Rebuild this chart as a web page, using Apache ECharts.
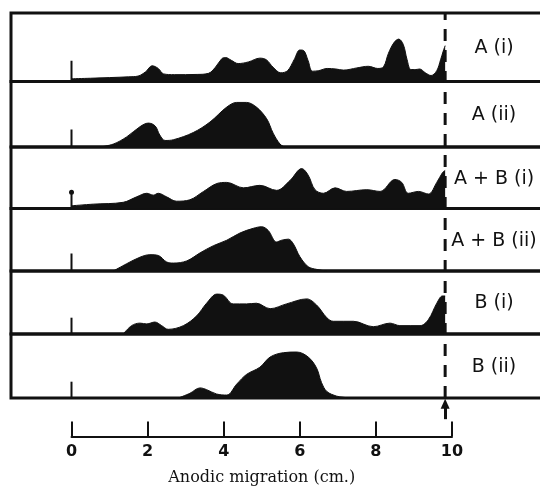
<!DOCTYPE html>
<html>
<head>
<meta charset="utf-8">
<script src="https://cdn.jsdelivr.net/npm/echarts@6/dist/echarts.min.js"></script>
<style>
html,body{margin:0;padding:0;background:#fff;}
#chart{width:540px;height:489px;}
</style>
</head>
<body>
<div id="chart"></div>
<script>
// ---- data (migration cm, relative density) ----
const panelNames = ['A (i)', 'A (ii)', 'A + B (i)', 'A + B (ii)', 'B (i)', 'B (ii)'];
const xTicks = [0, 2, 4, 6, 8, 10];
const frontCm = 9.82;           // dashed line / arrow position
const originTick = [19, 16, 15, 16, 15, 15];

const aI = [[0,2.5],[0.5,3],[1,3.6],[1.5,4.3],[1.75,5],[1.95,9],[2.12,14.5],[2.28,12],[2.42,7],[2.7,6.3],[3.3,6.5],[3.6,7.5],[3.78,13],[3.95,21],[4.05,22],[4.2,19.5],[4.38,16.5],[4.65,18],[4.95,21.5],[5.12,20],[5.3,13],[5.5,8],[5.68,10],[5.85,20],[6.0,29],[6.1,28.5],[6.22,19],[6.33,9.5],[6.5,10],[6.72,12],[6.95,11.5],[7.15,10.5],[7.5,12.5],[7.8,14],[8.05,12],[8.2,13.5],[8.33,26],[8.48,36],[8.6,39],[8.72,34],[8.82,20],[8.92,11],[9.05,11],[9.15,11.5],[9.3,8],[9.45,5.5],[9.6,10],[9.7,20],[9.77,28],[9.82,33]];
const aII = [[0.75,0],[1.1,2.7],[1.45,9.3],[1.8,18.7],[2.02,22],[2.2,19.3],[2.32,11],[2.46,6],[2.68,6.7],[3.2,13.3],[3.64,23],[4.08,36.7],[4.34,41],[4.6,41],[4.86,36.7],[5.13,26],[5.3,12.7],[5.48,2.7],[5.6,0]];
const abI = [[0,2.5],[0.57,4],[1.36,5.7],[1.71,10.7],[1.98,14],[2.15,12.3],[2.28,14],[2.5,10.7],[2.76,6.7],[3.11,8],[3.47,15.7],[3.82,23],[4.08,24],[4.52,19],[4.95,21.3],[5.39,16.7],[5.74,25.7],[6.05,36.7],[6.22,30.7],[6.4,17.3],[6.62,14],[6.93,19],[7.23,15.7],[7.76,17.3],[8.11,15.7],[8.5,26.7],[8.68,24],[8.85,14],[9.12,15.7],[9.38,13.3],[9.6,24],[9.75,33],[9.82,35]];
const abII = [[1.1,0],[1.45,6.7],[1.8,12.7],[2.06,15],[2.28,14.3],[2.5,8.3],[2.68,7.3],[3.03,9.3],[3.38,16.7],[3.73,23.3],[4.08,28.3],[4.43,35],[4.78,39.3],[5.0,40.7],[5.17,37.3],[5.39,26.7],[5.52,28.3],[5.7,29.3],[5.83,25],[6.0,13.3],[6.22,4],[6.44,1.5],[6.7,0]];
const bI = [[1.36,0],[1.58,7.7],[1.8,10],[1.98,9.3],[2.19,11],[2.37,7.7],[2.54,4.3],[2.94,7.7],[3.29,16.7],[3.55,28.3],[3.82,36.7],[3.99,35.7],[4.25,27.7],[4.6,27.7],[4.86,28.3],[5.22,23.3],[5.65,27.7],[6.18,32.3],[6.44,26.7],[6.71,15],[6.88,11.7],[7.41,11.7],[7.93,6.7],[8.37,10],[8.63,7.7],[9.16,7.7],[9.38,13.3],[9.6,28.3],[9.75,35],[9.82,35]];
const bII = [[2.81,0],[3.11,4.3],[3.38,9.3],[3.55,7.7],[3.81,3.7],[4.08,2.7],[4.34,12.7],[4.6,21.7],[4.95,28.3],[5.22,37.7],[5.57,41.7],[5.92,42.3],[6.22,37.7],[6.44,27.7],[6.57,14.3],[6.71,6],[6.97,1.7],[7.14,0.7],[7.3,0]];
const profiles = [aI, aII, abI, abII, bI, bII];

// ---- layout ----
const INK = '#111';
const edges = [13, 81.5, 147, 208.5, 271, 334, 398];
const yFill = 0.92;             // fraction of panel height per density unit range
const zeroPx = 71.5, pxPerCm = 38.05;
const frameLeft = 11, frameRight = 544;
const xMin = (frameLeft - zeroPx) / pxPerCm;
const xMax = (frameRight - zeroPx) / pxPerCm;

const grids = [], xAxes = [], yAxes = [], series = [], graphics = [];

for (let i = 0; i < 6; i++) {
  const top = edges[i], h = edges[i + 1] - edges[i];
  grids.push({left: frameLeft, width: frameRight - frameLeft, top: top, height: h,
    show: true, borderColor: INK, borderWidth: 3, backgroundColor: 'transparent',
    outerBoundsMode: 'none'});
  xAxes.push({gridIndex: i, type: 'value', min: xMin, max: xMax, show: false});
  yAxes.push({gridIndex: i, type: 'value', min: 0, max: h * yFill, show: false});
  series.push({type: 'line', xAxisIndex: i, yAxisIndex: i, data: profiles[i],
    smooth: 0.35, symbol: 'none', clip: true,
    lineStyle: {color: INK, width: 1}, areaStyle: {color: INK, opacity: 1}, z: 2});
  series.push({type: 'line', xAxisIndex: i, yAxisIndex: i,
    data: [[0, 0], [0, originTick[i]]],
    symbol: i === 2 ? 'circle' : 'none',
    symbolSize: (v, p) => (p.dataIndex === 1 ? 5 : 0),
    itemStyle: {color: INK}, lineStyle: {color: INK, width: 2}, z: 3});
  graphics.push({type: 'text', x: 494, y: top + h / 2 + 1,
    style: {text: panelNames[i], fill: INK, font: '19px "DejaVu Sans"',
      textAlign: 'center', textVerticalAlign: 'middle'}});
}

// overlay grid for dashed front line
grids.push({left: frameLeft, width: frameRight - frameLeft, top: edges[0],
  height: edges[6] - edges[0], show: false, outerBoundsMode: 'none'});
xAxes.push({gridIndex: 6, type: 'value', min: xMin, max: xMax, show: false});
yAxes.push({gridIndex: 6, type: 'value', min: 0, max: 1, show: false});
series.push({type: 'line', xAxisIndex: 6, yAxisIndex: 6,
  data: [[frontCm, 0], [frontCm, 1]], symbol: 'none',
  lineStyle: {color: INK, width: 3, type: [12, 9]}, z: 5});

// bottom scale
grids.push({left: zeroPx, width: 10 * pxPerCm, top: 398, height: 38.5,
  show: false, outerBoundsMode: 'none'});
xAxes.push({gridIndex: 7, type: 'value', min: xTicks[0], max: xTicks[xTicks.length - 1],
  interval: 2, axisLine: {show: true, lineStyle: {color: INK, width: 2}},
  axisTick: {show: true, inside: true, length: 15, lineStyle: {color: INK, width: 2}},
  splitLine: {show: false},
  axisLabel: {margin: 7, color: INK, fontFamily: 'DejaVu Sans', fontWeight: 'bold', fontSize: 16},
  name: 'Anodic migration (cm.)', nameLocation: 'middle', nameGap: 33,
  nameTextStyle: {fontFamily: 'DejaVu Serif', fontSize: 16, color: INK}});
yAxes.push({gridIndex: 7, type: 'value', min: 0, max: 1, show: false});
series.push({type: 'line', xAxisIndex: 7, yAxisIndex: 7, data: [],
  markLine: {silent: true, symbol: ['none', 'triangle'], symbolSize: [9, 10],
    label: {show: false}, lineStyle: {color: INK, width: 3, type: 'solid'},
    data: [[{coord: [frontCm, 0.45]}, {coord: [frontCm, 0.85]}]]}});

const chart = echarts.init(document.getElementById('chart'), null, {renderer: 'canvas'});
chart.setOption({
  animation: false, backgroundColor: '#fff',
  grid: grids, xAxis: xAxes, yAxis: yAxes, series: series, graphic: graphics
});
</script>
</body>
</html>
